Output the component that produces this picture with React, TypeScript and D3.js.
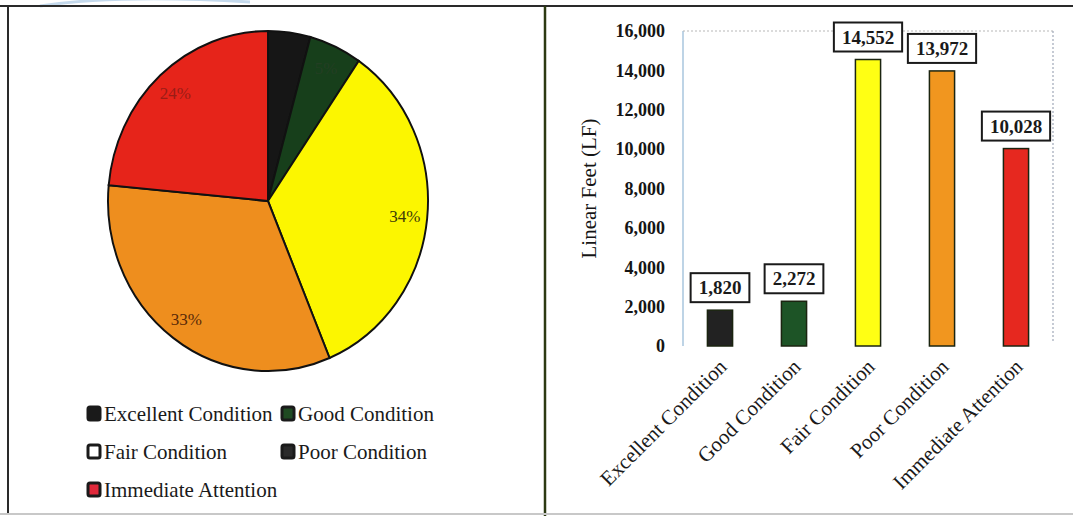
import React from "react";
import * as d3 from "d3";

const categories = ["Excellent Condition", "Good Condition", "Fair Condition", "Poor Condition", "Immediate Attention"];
const values = [1820, 2272, 14552, 13972, 10028];
const valueLabels = ["1,820", "2,272", "14,552", "13,972", "10,028"];
const pieLabels = ["", "5%", "34%", "33%", "24%"];
const yTicks = [0, 2000, 4000, 6000, 8000, 10000, 12000, 14000, 16000];
const sliceColors = ["#161616", "#173f1b", "#fcf600", "#ee8e1e", "#e6241a"];
const barColors = ["#222222", "#1d5426", "#ffff14", "#f1961f", "#e6281f"];
const pieLabelColors = ["#888", "#233e23", "#3d3b08", "#5a2a08", "#9a1c16"];
const legendFill = ["#1a1a1a", "#1f4a22", "#ffffff", "#2a2a2a", "#e0283a"];

const FONT = "'Liberation Serif', 'Times New Roman', serif";

export default function App() {
  // ---- Pie ----
  const cx = 268, cy = 201, R = 165;
  const sx = 160 / R, sy = 170 / R;
  const pie = d3.pie<number>().sort(null).value((d) => d)(values);
  const arc = d3.arc<d3.PieArcDatum<number>>().innerRadius(0).outerRadius(R);
  const labelArc = d3.arc<d3.PieArcDatum<number>>().innerRadius(R * 0.86).outerRadius(R * 0.86);

  // ---- Bars ----
  const y = d3.scaleLinear().domain([0, 16000]).range([346, 31]);
  const x = d3.scaleBand<string>().domain(categories).range([683, 1053]).paddingInner(0.66).paddingOuter(0.33);
  const plotL = 683, plotR = 1053, plotT = y(16000), plotB = y(0);

  const legendRows = [
    { i: 0, x: 88, yb: 421 },
    { i: 1, x: 282, yb: 421 },
    { i: 2, x: 88, yb: 459 },
    { i: 3, x: 282, yb: 459 },
    { i: 4, x: 88, yb: 497 },
  ];

  const textW = (s: string, fs: number) => {
    let w = 0;
    for (const ch of s) w += ch === "," ? 0.25 : 0.5;
    return w * fs;
  };

  return (
    <div style={{ position: "absolute", left: 0, top: 0 }}>
      <svg width={1073} height={516} style={{ display: "block", background: "#fff" }} fontFamily={FONT}>
        <rect x={0} y={0} width={1073} height={516} fill="#ffffff" />
        {/* partial logo swoosh at top */}
        <path d="M40,6 Q120,-6 250,2" fill="none" stroke="#9cc0e0" strokeWidth={3} opacity={0.6} />
        {/* frames */}
        <line x1={0} x2={1073} y1={6} y2={6} stroke="#2a2a2a" strokeWidth={2} />
        <line x1={8} x2={8} y1={6} y2={514} stroke="#2a2a2a" strokeWidth={2} />
        <line x1={545} x2={545} y1={6} y2={516} stroke="#2c3a12" strokeWidth={2.5} />
        <line x1={0} x2={1073} y1={514} y2={514} stroke="#c8c8c8" strokeWidth={2} />

        {/* Pie */}
        <g transform={`translate(${cx},${cy}) scale(${sx},${sy})`}>
          {pie.map((p, i) => (
            <path key={i} d={arc(p) || ""} fill={sliceColors[i]} stroke="#111" strokeWidth={2} />
          ))}
        </g>
        {pie.map((p, i) => {
          const [lx, ly] = labelArc.centroid(p);
          return pieLabels[i] ? (
            <text key={i} x={cx + lx * sx} y={cy + ly * sy} dy="0.35em" textAnchor="middle" fontSize={17} fill={pieLabelColors[i]}>
              {pieLabels[i]}
            </text>
          ) : null;
        })}

        {/* Legend */}
        {legendRows.map((r) => (
          <g key={r.i}>
            <rect x={r.x} y={r.yb - 14} width={12} height={13} rx={2} fill={legendFill[r.i]} stroke="#1a1a1a" strokeWidth={3} />
            <text x={r.x + 16} y={r.yb} fontSize={21} fill="#1a1a1a">{categories[r.i]}</text>
          </g>
        ))}

        {/* Plot area border */}
        <line x1={plotL} x2={plotL} y1={plotT} y2={plotB} stroke="#a9c6de" strokeWidth={1.5} />
        <line x1={plotL} x2={plotR} y1={plotT} y2={plotT} stroke="#b8b8b8" strokeWidth={1.2} strokeDasharray="2,2" />
        <line x1={plotR} x2={plotR} y1={plotT} y2={plotB - 4} stroke="#a0a8b8" strokeWidth={1.2} strokeDasharray="2,2" />

        {/* Y ticks */}
        {yTicks.map((t) => (
          <text key={t} x={665} y={y(t)} dy="0.35em" textAnchor="end" fontSize={18} fontWeight={600} fill="#151515">
            {d3.format(",")(t)}
          </text>
        ))}
        <text transform={`translate(589,${(plotT + plotB) / 2}) rotate(-90)`} dy="0.35em" textAnchor="middle" fontSize={21} fill="#151515">
          Linear Feet (LF)
        </text>

        {/* Bars */}
        {categories.map((c, i) => {
          const bx = x(c)!;
          const bw = x.bandwidth();
          const top = y(values[i]);
          const cxb = bx + bw / 2;
          const lw = textW(valueLabels[i], 19) + 16;
          const bh = 29;
          const boxB = top - 8;
          return (
            <g key={c}>
              <rect x={bx} y={top} width={bw} height={plotB - top} fill={barColors[i]} stroke="#1b2410" strokeWidth={1.5} />
              <rect x={cxb - lw / 2} y={boxB - bh} width={lw} height={bh} fill="#fff" stroke="#1a1a1a" strokeWidth={2} />
              <text x={cxb} y={boxB - 8} textAnchor="middle" fontSize={19} fontWeight={700} fill="#1a1a1a">
                {valueLabels[i]}
              </text>
              <text transform={`translate(${cxb + 8},${plotB + 22}) rotate(-45)`} textAnchor="end" fontSize={21} fill="#1a1a1a">
                {c}
              </text>
            </g>
          );
        })}
      </svg>
    </div>
  );
}
